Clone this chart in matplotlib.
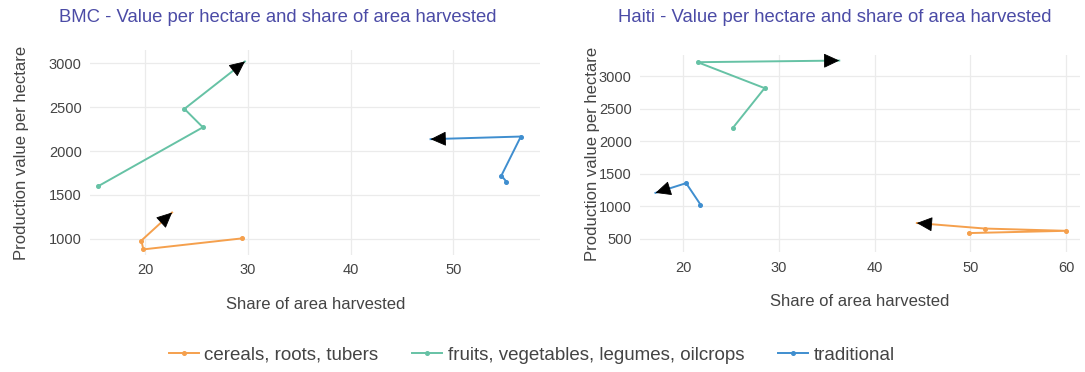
"""
Value per hectare vs share of area harvested, BMC and Haiti, one path per crop group.
"""
import matplotlib
matplotlib.use("Agg")
import matplotlib.pyplot as plt
import numpy as np
from matplotlib.lines import Line2D

plt.rcParams["font.family"] = ["Liberation Sans", "DejaVu Sans"]

# ---------------------------------------------------------------------------
# Data (last point of each path carries the arrow)
# ---------------------------------------------------------------------------
groups = ["cereals, roots, tubers", "fruits, vegetables, legumes, oilcrops", "traditional"]
colors = ["#F5A04D", "#66C2A5", "#3F8ECF"]

bmc_share = {
    "cereals, roots, tubers": [29.4, 19.8, 19.6, 22.6],
    "fruits, vegetables, legumes, oilcrops": [15.4, 25.6, 23.8, 29.7],
    "traditional": [55.2, 54.7, 56.6, 47.8],
}
bmc_value = {
    "cereals, roots, tubers": [1005, 880, 980, 1300],
    "fruits, vegetables, legumes, oilcrops": [1600, 2270, 2480, 3020],
    "traditional": [1650, 1720, 2165, 2135],
}

haiti_share = {
    "cereals, roots, tubers": [49.8, 60.0, 51.5, 44.4],
    "fruits, vegetables, legumes, oilcrops": [25.2, 28.5, 21.5, 36.3],
    "traditional": [21.8, 20.3, 17.1],
}
haiti_value = {
    "cereals, roots, tubers": [585, 620, 655, 740],
    "fruits, vegetables, legumes, oilcrops": [2210, 2820, 3220, 3245],
    "traditional": [1025, 1355, 1205],
}

TITLE_C = "#4B4BA6"
TEXT_C = "#444444"
GRID_C = "#EBEBEB"

fig = plt.figure(figsize=(10.85, 3.72), dpi=100)
axL = fig.add_axes([0.083, 0.315, 0.415, 0.55])
axR = fig.add_axes([0.590, 0.322, 0.405, 0.530])


def draw_panel(ax, share, value, xlim, xticks, ylim, yticks, ylab_x):
    ax.set_xticks(xticks)
    ax.set_yticks(yticks)
    ax.set_xlim(*xlim)
    ax.set_ylim(*ylim)
    for g, c in zip(groups, colors):
        xs, ys = share[g], value[g]
        ax.plot(xs, ys, "-o", color=c, lw=1.4, ms=2.6, zorder=3,
                markevery=list(range(len(xs) - 1)))
        # black arrow head on the final segment (direction from the last two points)
        p0, p1 = ax.transData.transform([(xs[-2], ys[-2]), (xs[-1], ys[-1])])
        d = (p1 - p0) / np.hypot(*(p1 - p0))
        back = -d * 9
        ax.annotate("", xy=(xs[-1], ys[-1]), xytext=(back[0], back[1]),
                    textcoords="offset pixels",
                    arrowprops=dict(arrowstyle="-|>,head_length=0.9,head_width=0.42",
                                    fc="black", ec="black", lw=0.6, shrinkA=0, shrinkB=0,
                                    mutation_scale=11), zorder=4)
    ax.grid(color=GRID_C, lw=0.9)
    ax.set_axisbelow(True)
    for s in ax.spines.values():
        s.set_visible(False)
    ax.tick_params(length=0, labelsize=10.5, labelcolor=TEXT_C, pad=6)
    ax.set_xlabel("Share of area harvested", fontsize=12, color=TEXT_C, labelpad=14)
    ax.set_ylabel("Production value per hectare", fontsize=12, color=TEXT_C)
    ax.yaxis.set_label_coords(ylab_x, 0.5)


draw_panel(axL, bmc_share, bmc_value, (14.6, 58.5), [20, 30, 40, 50],
           (818, 3148), [1000, 1500, 2000, 2500, 3000], -0.135)
draw_panel(axR, haiti_share, haiti_value, (15.5, 61.4), [20, 30, 40, 50, 60],
           (290, 3330), [500, 1000, 1500, 2000, 2500, 3000], -0.092)

fig.text(0.256, 0.952, "BMC - Value per hectare and share of area harvested",
         ha="center", va="center", fontsize=13.3, color=TITLE_C)
fig.text(0.769, 0.952, "Haiti - Value per hectare and share of area harvested",
         ha="center", va="center", fontsize=13.3, color=TITLE_C)

handles = [Line2D([], [], color=c, lw=1.4, marker="o", ms=2.6) for c in colors]
fig.legend(handles, groups, loc="center", bbox_to_anchor=(0.49, 0.045), ncol=3,
           frameon=False, fontsize=13.5, handlelength=1.6, handletextpad=0.3,
           columnspacing=1.8, labelcolor=TEXT_C)

fig.savefig("out.png", dpi=100)
